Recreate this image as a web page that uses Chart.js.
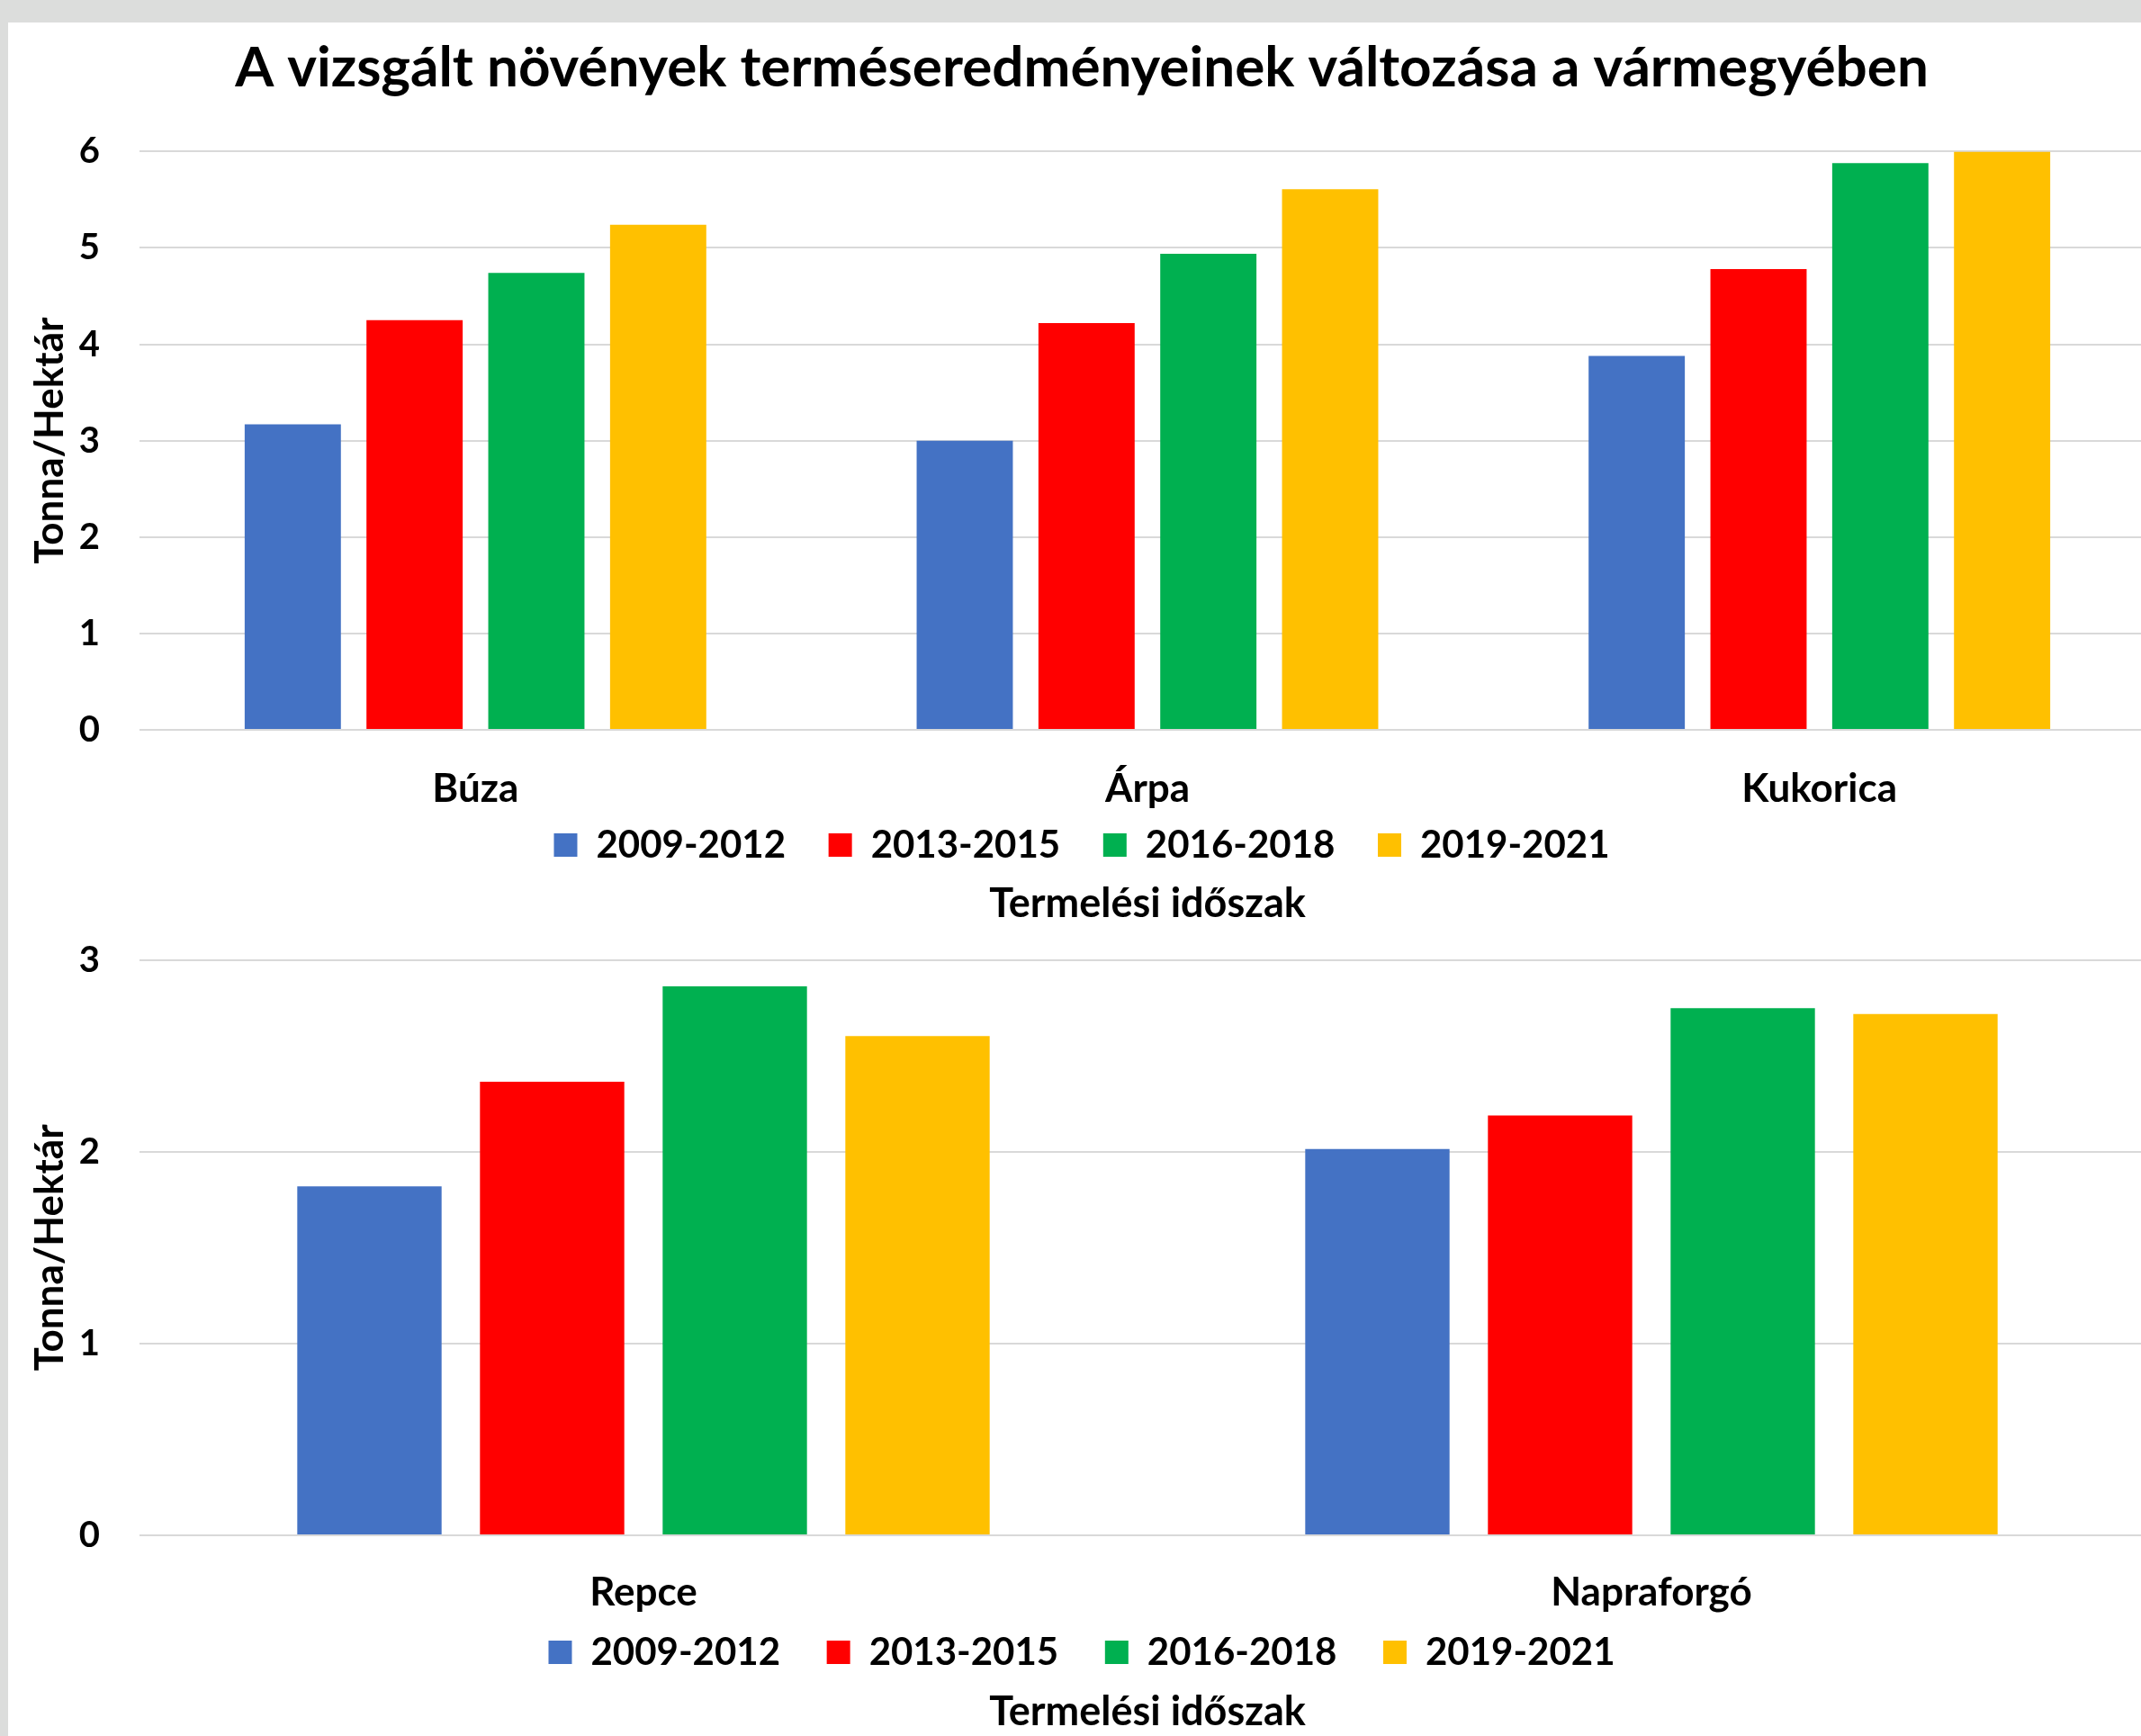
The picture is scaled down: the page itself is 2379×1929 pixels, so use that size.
<!DOCTYPE html>
<html>
<head>
<meta charset="utf-8">
<script src="https://cdn.jsdelivr.net/npm/chart.js@4.4.1/dist/chart.umd.min.js"></script>
<style>
  html, body { margin: 0; padding: 0; overflow: hidden; }
  body { width: 2379px; height: 1929px; background: #dcdddc; position: relative; }
  #card { position: absolute; left: 9px; top: 25px; width: 2370px; height: 1904px; background: #fff; }
  canvas { position: absolute; left: 9px; }
  #topChart { top: 25px; }
  #bottomChart { top: 1040px; }
</style>
</head>
<body>
<div id="card"></div>
<canvas id="topChart" width="2386" height="1015"></canvas>
<canvas id="bottomChart" width="2386" height="889"></canvas>
<script>
const periods = ['2009-2012', '2013-2015', '2016-2018', '2019-2021'];
const colors = ['#4472C4', '#FF0000', '#00B050', '#FFC000'];

// gabonafélék (felső ábra)
const topCrops = ['Búza', 'Árpa', 'Kukorica'];
const top2009 = [3.17, 3.0, 3.88];
const top2013 = [4.25, 4.22, 4.78];
const top2016 = [4.74, 4.94, 5.88];
const top2019 = [5.24, 5.61, 6.0];

// olajnövények (alsó ábra)
const bottomCrops = ['Repce', 'Napraforgó'];
const bottom2009 = [1.82, 2.015];
const bottom2013 = [2.366, 2.19];
const bottom2016 = [2.864, 2.75];
const bottom2019 = [2.604, 2.72];

const topTicks = [0, 1, 2, 3, 4, 5, 6];
const bottomTicks = [0, 1, 2, 3];

Chart.defaults.color = '#000';
Chart.defaults.font.family = 'Lato';
Chart.defaults.font.weight = 'bold';

const font = size => ({ family: 'Lato', size: size, weight: 'bold' });

function makeDatasets(series) {
    return series.map((values, i) => ({
        label: periods[i],
        data: values,
        backgroundColor: colors[i],
        borderWidth: 0,
        categoryPercentage: 0.725,
        barPercentage: 0.79
    }));
}

// legend items sit further apart than the vertical padding allows, so pad the text
function legendLabels(chart) {
    const items = Chart.defaults.plugins.legend.labels.generateLabels(chart);
    items.forEach((item, i) => {
        if (i < items.length - 1) item.text = item.text + '   ';
    });
    return items;
}

function makeOptions(o) {
    return {
        responsive: false,
        animation: false,
        devicePixelRatio: 1,
        layout: { padding: o.layoutPadding },
        plugins: {
            title: o.title ? {
                display: true,
                text: o.title,
                font: font(62),
                padding: { top: 14, bottom: 55 }
            } : { display: false },
            subtitle: {
                display: true,
                text: 'Termelési időszak',
                position: 'bottom',
                fullSize: false,
                font: font(45),
                padding: o.subPadding
            },
            legend: {
                position: 'bottom',
                labels: { boxWidth: 26, boxHeight: 26, padding: o.legendPad, font: font(42), generateLabels: legendLabels }
            },
            tooltip: { enabled: false }
        },
        scales: {
            x: {
                grid: { display: false },
                border: { display: false },
                ticks: { font: font(44), padding: o.xPad },
                afterFit: scale => { scale.height = o.xHeight; }
            },
            y: {
                min: 0,
                max: o.ticks[o.ticks.length - 1],
                afterBuildTicks: scale => { scale.ticks = o.ticks.map(v => ({ value: v })); },
                grid: { color: '#d9d9d9', lineWidth: 2, drawTicks: false },
                border: { display: false },
                ticks: { font: font(40), padding: 44 },
                title: { display: true, text: 'Tonna/Hektár', font: font(44), padding: { top: 20, bottom: 0 } },
                afterFit: scale => {
                    scale.width = 146;
                    scale.paddingTop = 0;
                    scale.paddingBottom = 0;
                }
            }
        }
    };
}

new Chart(document.getElementById('topChart'), {
    type: 'bar',
    data: {
        labels: topCrops,
        datasets: makeDatasets([top2009, top2013, top2016, top2019])
    },
    options: makeOptions({
        title: 'A vizsgált növények terméseredményeinek változása a vármegyében',
        layoutPadding: { top: 0, left: 0, right: 0, bottom: 0 },
        subPadding: { top: 7, bottom: 9 },
        legendPad: 17,
        xPad: 31,
        xHeight: 90,
        ticks: topTicks
    })
});

new Chart(document.getElementById('bottomChart'), {
    type: 'bar',
    data: {
        labels: bottomCrops,
        datasets: makeDatasets([bottom2009, bottom2013, bottom2016, bottom2019])
    },
    options: makeOptions({
        title: null,
        layoutPadding: { top: 27, left: 0, right: 0, bottom: 0 },
        subPadding: { top: 8, bottom: 0 },
        legendPad: 21,
        xPad: 29,
        xHeight: 88,
        ticks: bottomTicks
    })
});
</script>
</body>
</html>
